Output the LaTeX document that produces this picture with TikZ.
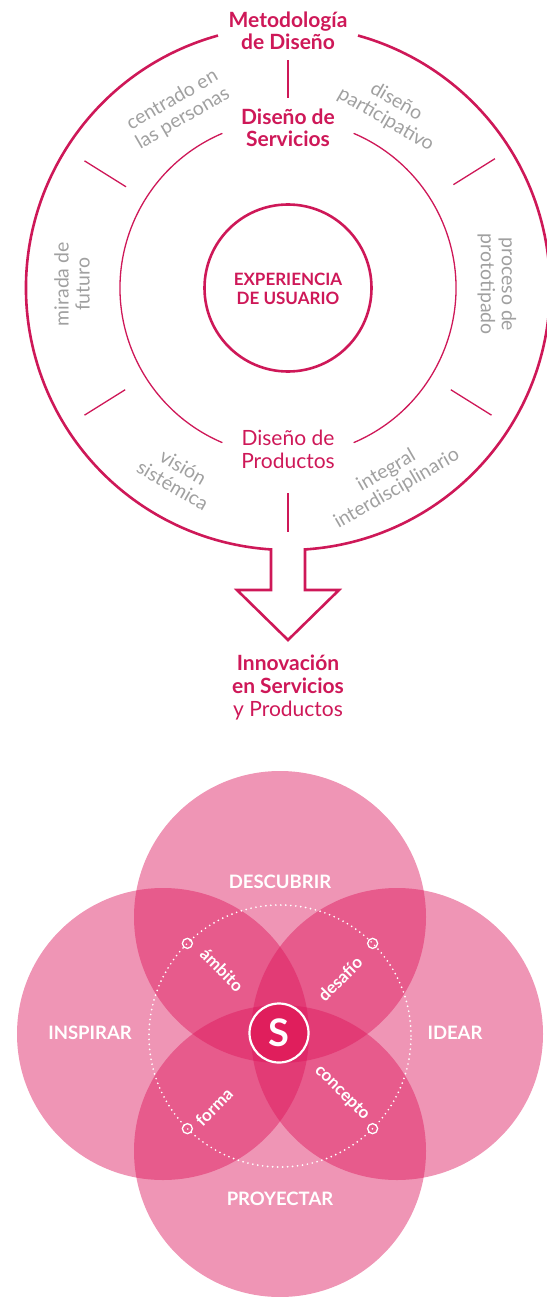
\documentclass[tikz,border=0pt]{standalone}
\usepackage{fontspec}
\setmainfont{Lato}
\usetikzlibrary{calc}
\definecolor{mag}{RGB}{206,24,88}
\definecolor{txtgray}{RGB}{160,160,160}
\definecolor{petal}{RGB}{220,20,90}
\definecolor{scol}{RGB}{224,30,92}
\begin{document}
\begin{tikzpicture}[x=1pt,y=1pt,
  thickring/.style={draw=mag,line width=2.6pt},
  thinring/.style={draw=mag,line width=1.3pt},
  tickline/.style={draw=mag,line width=1.3pt},
  titlebold/.style={text=mag,font=\fontsize{21}{22}\selectfont\bfseries,align=center,inner sep=0pt},
  titlereg/.style={text=mag,font=\fontsize{21}{23}\selectfont,align=center,inner sep=0pt},
  capsbold/.style={text=mag,font=\fontsize{17}{18.5}\selectfont\bfseries,align=center,inner sep=0pt},
  graylbl/.style={text=txtgray,font=\fontsize{19.5}{21}\selectfont,align=center,inner sep=0pt},
  petalfill/.style={fill=petal,fill opacity=0.45},
  whitelbl/.style={text=white,font=\fontsize{18.5}{20}\selectfont\bfseries,inner sep=0pt},
  smalllbl/.style={text=white,font=\fontsize{17}{18}\selectfont\bfseries,inner sep=0pt},
  ringdot/.style={draw=white,line width=1.3pt,circle,minimum size=10pt,inner sep=0pt}
]
\useasboundingbox (0,0) rectangle (546,-1297);
\coordinate (c) at (288,-288);

% inner circle
\node[circle,draw=mag,line width=2.6pt,minimum size=167pt,inner sep=0pt] (ux) at (c) {};
\node[capsbold] (uxt) at (288,-289) {EXPERIENCIA\\DE USUARIO};

% middle circle (two arcs)
\draw[thinring] ($(c)+(113:168)$) arc[start angle=113,end angle=247,radius=168];
\draw[thinring] ($(c)+(-67:168)$) arc[start angle=-67,end angle=67,radius=168];

% outer circle with arrow
\draw[thickring,line join=miter]
  ($(c)+(105.5:262)$) arc[start angle=105.5,end angle=266.28,radius=262]
  -- (271,-590) -- (237,-590) -- (288,-640) -- (339,-590) -- (305,-590)
  -- ($(c)+(273.72:262)$) arc[start angle=273.72,end angle=434.5,radius=262];

% ticks
\foreach \a/\ra/\rb in {90/190/228, 32/195/244, 148/191/240, 212/192/240, 328/192/240, 270/205/244}{
  \draw[tickline] ($(c)+(\a:\ra)$) -- ($(c)+(\a:\rb)$);
}

% titles
\node[titlebold] (met) at (288,-31) {Metodología\\de Diseño};
\node[titlebold] (ser) at (288,-128) {Diseño de\\Servicios};
\node[titlereg] (pro) at (288,-449) {Diseño de\\Productos};
\node[titlereg] (inn) at (288,-688)
  {\textbf{Innovación}\\\textbf{en Servicios}\\y Productos};

% gray labels
\node[graylbl,rotate=30] (l1) at ($(c)+(121.7:210)$) {centrado en\\las personas};
\node[graylbl,rotate=-30] (l2) at ($(c)+(59.8:205)$) {diseño\\participativo};
\node[graylbl,rotate=-90] (l3) at ($(c)+(1:209)$) {proceso de\\prototipado};
\node[graylbl,rotate=90] (l4) at ($(c)+(179:216)$) {mirada de\\futuro};
\node[graylbl,rotate=-30] (l5) at ($(c)+(239.7:218)$) {visión\\sistémica};
\node[graylbl,rotate=30] (l6) at ($(c)+(298.4:218)$) {integral\\interdisciplinario};

% ---------------- bottom diagram
\fill[petalfill] (280,-917) circle (146);
\fill[petalfill] (163,-1034) circle (146);
\fill[petalfill] (397,-1034) circle (146);
\fill[petalfill] (280,-1151) circle (146);

\coordinate (dc) at (280,-1036);
\draw[white,line width=1.9pt,dash pattern=on 0pt off 5pt,line cap=round] (dc) circle (131);

\node[ringdot] (d1) at ($(dc)+(135:131)$) {};
\node[ringdot] (d2) at ($(dc)+(45:131)$) {};
\node[ringdot] (d3) at ($(dc)+(225:131)$) {};
\node[ringdot] (d4) at ($(dc)+(315:131)$) {};

\node[smalllbl,rotate=-45] (w1) at (222,-970) {ámbito};
\node[smalllbl,rotate=45] (w2) at (340,-979) {desafío};
\node[smalllbl,rotate=45] (w3) at (214,-1107) {forma};
\node[smalllbl,rotate=-45] (w4) at (342,-1093) {concepto};

\node[whitelbl] (n1) at (280,-882) {DESCUBRIR};
\node[whitelbl] (n2) at (90,-1033) {INSPIRAR};
\node[whitelbl] (n3) at (455,-1033) {IDEAR};
\node[whitelbl] (n4) at (280,-1199) {PROYECTAR};

\node[circle,draw=white,line width=2.2pt,fill=scol,minimum size=59pt,inner sep=0pt,
      text=white,font=\fontsize{38}{38}\selectfont\bfseries] (s) at (279,-1033) {S};
\end{tikzpicture}
\end{document}
